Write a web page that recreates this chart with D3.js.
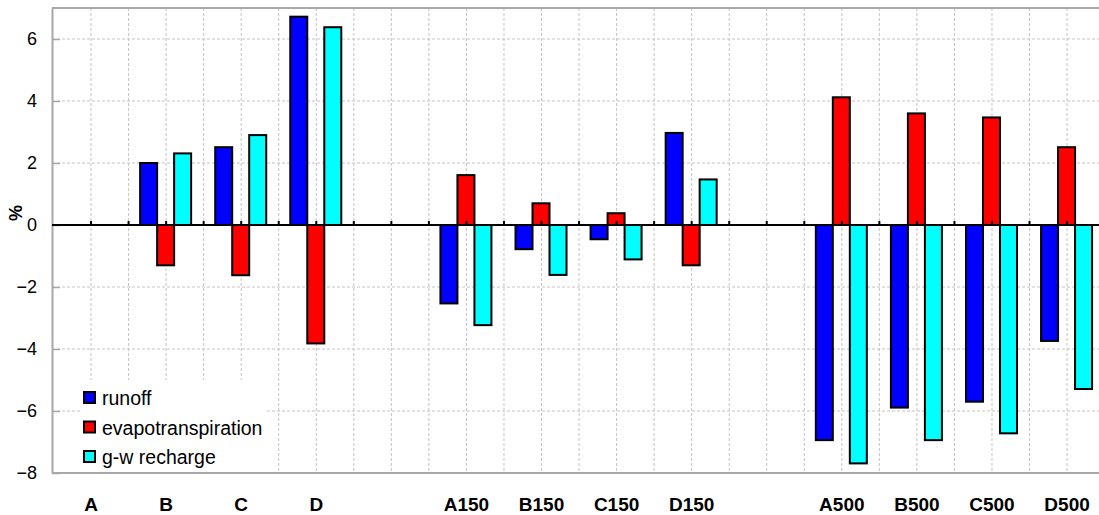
<html>
<head>
  <meta charset="utf-8" />
  <script src="https://cdnjs.cloudflare.com/ajax/libs/d3/7.8.5/d3.min.js"></script>
  <style>
    body { margin: 0; background: #fff; }
    text { font-family: "Liberation Sans", Arial, sans-serif; }
    .grid line { stroke: #c4c4c4; stroke-dasharray: 3,2; }
  </style>
</head>
<body>
  <svg></svg>
  <script>
    // categories, with two empty slots acting as gaps between the groups
    var slots = ["A", "B", "C", "D", "gap1", "A150", "B150", "C150", "D150", "gap2", "A500", "B500", "C500", "D500"]
    var categories = ["A", "B", "C", "D", "A150", "B150", "C150", "D150", "A500", "B500", "C500", "D500"]
    var seriesNames = ["runoff", "evapotranspiration", "g-w recharge"]
    var seriesColors = ["#0000ff", "#ff0000", "#00ffff"]

    var runoff = [0, 2.0, 2.51, 6.72, -2.53, -0.78, -0.46, 2.97, -6.94, -5.89, -5.7, -3.74]
    var evapotranspiration = [0, -1.3, -1.62, -3.82, 1.61, 0.7, 0.38, -1.3, 4.12, 3.6, 3.47, 2.51]
    var recharge = [0, 2.31, 2.9, 6.38, -3.23, -1.61, -1.11, 1.47, -7.69, -6.94, -6.72, -5.29]

    var yTicks = [-8, -6, -4, -2, 0, 2, 4, 6]

    var W = 1099, H = 515
    var svg = d3.select("svg").attr("width", W).attr("height", H)

    var x = d3.scaleBand().domain(slots).range([53.5, 1104.6]).padding(0)
    var y = d3.scaleLinear().domain([-8, 7]).range([473, 8])
    var inner = d3.scaleBand().domain(seriesNames).range([-26, 25]).padding(0)

    var left = 52, right = W + 10

    // grid
    var grid = svg.append("g").attr("class", "grid")
    grid.selectAll("line.h")
      .data(yTicks.filter(d => d > -8 && d != 0))
      .enter().append("line")
        .attr("class", "h")
        .attr("x1", left).attr("x2", right)
        .attr("y1", d => y(d)).attr("y2", d => y(d))

    var vx = []
    slots.forEach(function(s, i) {
      vx.push(x(s) + x.bandwidth() / 2)
      if (i > 0) vx.push(x(s))
    })
    grid.selectAll("line.v")
      .data(vx)
      .enter().append("line")
        .attr("class", "v")
        .attr("x1", d => d).attr("x2", d => d)
        .attr("y1", y(7)).attr("y2", y(-8))

    // frame
    svg.append("line").attr("x1", left).attr("x2", right).attr("y1", y(7)).attr("y2", y(7))
      .attr("stroke", "#a8a8a8").attr("stroke-width", 2)
    svg.append("line").attr("x1", left).attr("x2", right).attr("y1", y(-8)).attr("y2", y(-8))
      .attr("stroke", "#a8a8a8").attr("stroke-width", 2)

    // y axis
    var yAxis = svg.append("g")
      .attr("transform", "translate(" + left + ",0)")
      .call(d3.axisLeft(y).tickValues(yTicks).tickSize(-8).tickPadding(15).tickSizeOuter(0))
    yAxis.select("path.domain").attr("stroke", "#a8a8a8").attr("stroke-width", 2)
    yAxis.selectAll(".tick line").attr("stroke", "#a8a8a8").attr("stroke-width", 1.5)
    yAxis.selectAll(".tick text")
      .attr("font-size", 18).attr("fill", "#000")
      .style("font-family", "'Liberation Sans', Arial, sans-serif")

    svg.append("text")
      .attr("transform", "translate(22," + (y(0) - 12) + ") rotate(-90)")
      .attr("text-anchor", "middle")
      .attr("font-size", 18).attr("font-weight", "bold")
      .text("%")

    // bars
    var data = categories.map(function(c, i) {
      return { cat: c, vals: [runoff[i], evapotranspiration[i], recharge[i]] }
    })

    svg.selectAll("g.cat")
      .data(data)
      .enter().append("g")
        .attr("class", "cat")
        .attr("transform", d => "translate(" + (x(d.cat) + x.bandwidth() / 2) + ",0)")
      .each(function(d) {
        d3.select(this).selectAll("rect")
          .data(d.vals.map((v, k) => ({ v: v, k: k })).filter(p => p.v != 0))
          .enter().append("rect")
            .attr("x", p => inner(seriesNames[p.k]))
            .attr("width", inner.bandwidth())
            .attr("y", p => y(Math.max(0, p.v)))
            .attr("height", p => Math.abs(y(p.v) - y(0)))
            .attr("fill", p => seriesColors[p.k])
            .attr("stroke", "#000").attr("stroke-width", 2)
      })

    // zero line with ticks
    svg.append("line").attr("x1", left).attr("x2", right).attr("y1", y(0)).attr("y2", y(0))
      .attr("stroke", "#000").attr("stroke-width", 2)
    svg.selectAll("line.zt")
      .data(vx)
      .enter().append("line")
        .attr("class", "zt")
        .attr("x1", d => d).attr("x2", d => d)
        .attr("y1", y(0) - 4).attr("y2", y(0) + 1)
        .attr("stroke", "#000").attr("stroke-width", 2)

    // category labels
    svg.selectAll("text.cat")
      .data(categories)
      .enter().append("text")
        .attr("class", "cat")
        .attr("x", d => x(d) + x.bandwidth() / 2)
        .attr("y", 511)
        .attr("text-anchor", "middle")
        .attr("font-size", 19).attr("font-weight", "bold")
        .text(d => d)

    // legend
    var legend = svg.append("g")
    legend.append("rect").attr("x", 80).attr("y", 380).attr("width", 187).attr("height", 92).attr("fill", "#fff")
    seriesNames.forEach(function(name, i) {
      legend.append("rect")
        .attr("x", 84).attr("y", 392 + i * 29.5).attr("width", 11).attr("height", 11)
        .attr("fill", seriesColors[i]).attr("stroke", "#000").attr("stroke-width", 2)
      legend.append("text")
        .attr("x", 102).attr("y", 405 + i * 29.5)
        .attr("font-size", 19.5)
        .text(name)
    })
  </script>
</body>
</html>
